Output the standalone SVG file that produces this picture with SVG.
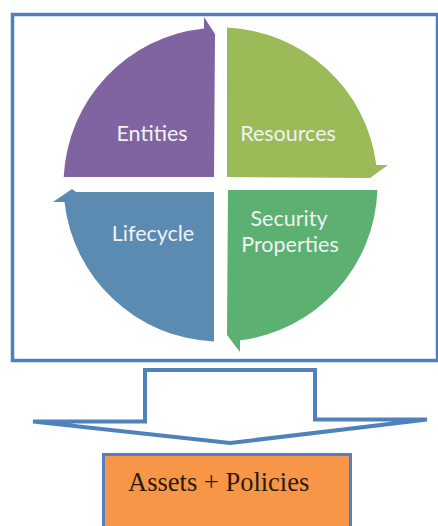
<svg xmlns="http://www.w3.org/2000/svg" width="438" height="526" viewBox="0 0 438 526">
  <style>
    .frame { fill: #ffffff; stroke: #4f81bd; stroke-width: 3.5; }
    .seg-label { font-family: Lato, "Open Sans", "Liberation Sans", sans-serif; font-size: 21.5px; fill: #f2f2f2; text-anchor: middle; }
    .flow { fill: #ffffff; stroke: #4f81bd; stroke-width: 4; stroke-linejoin: miter; }
    .result { fill: #f79646; stroke: #4f81bd; stroke-width: 3; }
    .result-label { font-family: "Liberation Serif", "Times New Roman", serif; font-size: 26.5px; fill: #2a1a10; }
  </style>

  <rect width="438" height="526" fill="#ffffff"/>

  <!-- outer frame around the cycle -->
  <g id="cycle-frame">
    <rect class="frame" x="12.5" y="14.5" width="425" height="346"/>
  </g>

  <!-- four quarter segments of the circular arrow cycle, centre (220.5,184.5), r=157 -->
  <g id="entities">
    <path fill="#8064a2" d="M214,177 L63.7,177 A157,157 0 0 1 204,28.4 L204,17 L215,34 Z"/>
    <text class="seg-label" x="152" y="141">Entities</text>
  </g>

  <g id="resources">
    <path fill="#9bbb59" d="M227,27.6 A157,157 0 0 1 376.3,165 L388,165 L370,178 L227,177 Z"/>
    <text class="seg-label" x="288" y="141">Resources</text>
  </g>

  <g id="security-properties">
    <path fill="#5bb072" d="M228,190 L377.4,190 A157,157 0 0 1 240,340.3 L240,352 L227,335 Z"/>
    <text class="seg-label" x="289" y="226">Security</text>
    <text class="seg-label" x="290" y="252">Properties</text>
  </g>

  <g id="lifecycle">
    <path fill="#5b8bb1" d="M214,192 L214,341.4 A157,157 0 0 1 64.5,202 L53,202 L72,189 L76,192 Z"/>
    <text class="seg-label" x="153" y="241">Lifecycle</text>
  </g>

  <!-- block arrow leading down to the result -->
  <g id="connectors">
    <path class="flow" d="M145,370 L315,370 L315,419.5 L427,419.5 L230,443 L33,421.5 L145,421.5 Z"/>
  </g>

  <g id="assets-policies">
    <rect class="result" x="103.5" y="454.5" width="247" height="80"/>
    <text class="result-label" x="128" y="491">Assets + Policies</text>
  </g>
</svg>
